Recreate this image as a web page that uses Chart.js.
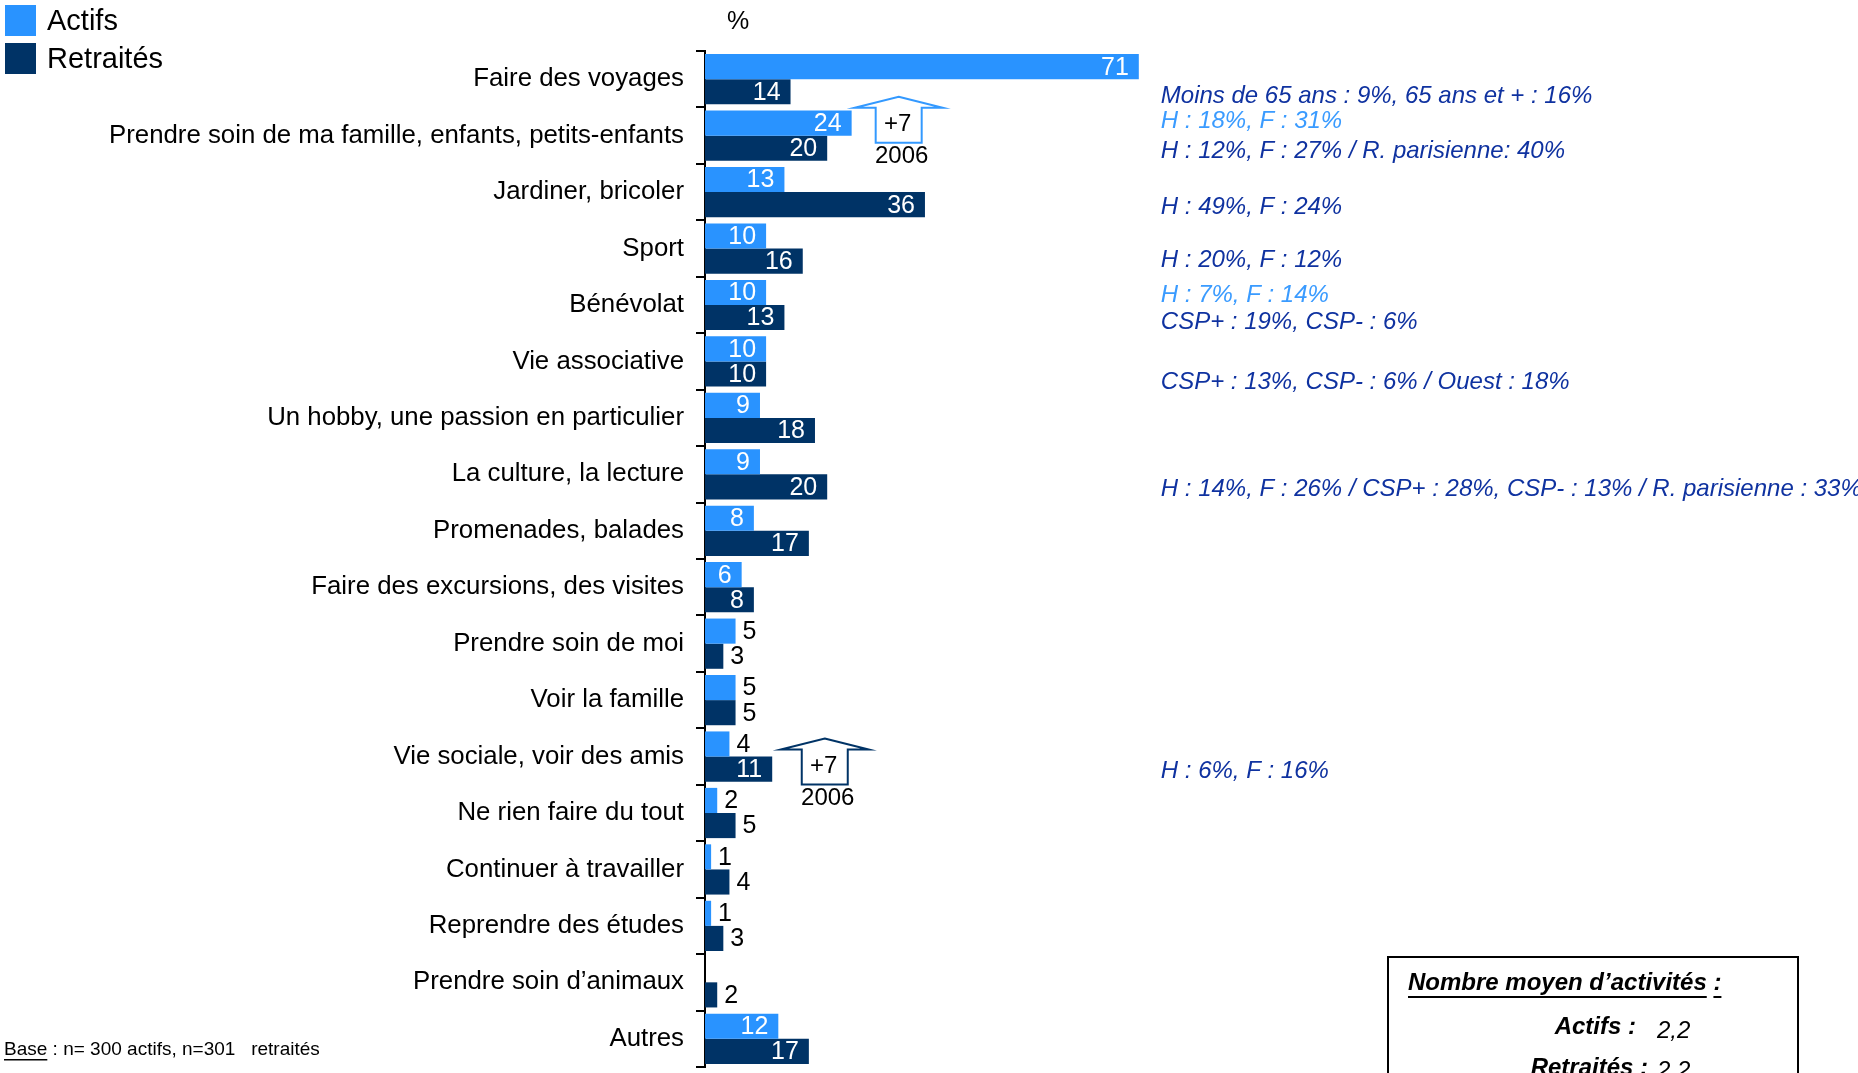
<!DOCTYPE html>
<html>
<head>
<meta charset="utf-8">
<script src="https://cdn.jsdelivr.net/npm/chart.js"></script>
<style>
  html, body { margin: 0; padding: 0; background: #fff; }
  #wrap { width: 1858px; height: 1073px; position: relative; }
</style>
</head>
<body>
<div id="wrap"><canvas id="chart" width="1858" height="1073"></canvas></div>
<script>
// --- Données ---
const categories = [
    "Faire des voyages",
    "Prendre soin de ma famille, enfants, petits-enfants",
    "Jardiner, bricoler",
    "Sport",
    "Bénévolat",
    "Vie associative",
    "Un hobby, une passion en particulier",
    "La culture, la lecture",
    "Promenades, balades",
    "Faire des excursions, des visites",
    "Prendre soin de moi",
    "Voir la famille",
    "Vie sociale, voir des amis",
    "Ne rien faire du tout",
    "Continuer à travailler",
    "Reprendre des études",
    "Prendre soin d’animaux",
    "Autres",
];
const actifs = [71, 24, 13, 10, 10, 10, 9, 9, 8, 6, 5, 5, 4, 2, 1, 1, null, 12];
const retraites = [14, 20, 36, 16, 13, 10, 18, 20, 17, 8, 3, 5, 11, 5, 4, 3, 2, 17];
const seriesNames = ["Actifs", "Retraités"];

// notes à droite : catégorie, série (0 = actifs, 1 = retraités), texte
const noteCats = [0, 1, 1, 2, 3, 4, 4, 5, 7, 12];
const noteSeries = [1, 0, 1, 1, 1, 0, 1, 1, 1, 1];
const noteTexts = [
    "Moins de 65 ans : 9%, 65 ans et + : 16%",
    "H : 18%, F : 31%",
    "H : 12%, F : 27% / R. parisienne: 40%",
    "H : 49%, F : 24%",
    "H : 20%, F : 12%",
    "H : 7%, F : 14%",
    "CSP+ : 19%, CSP- : 6%",
    "CSP+ : 13%, CSP- : 6% / Ouest : 18%",
    "H : 14%, F : 26% / CSP+ : 28%, CSP- : 13% / R. parisienne : 33%",
    "H : 6%, F : 16%",
];

// évolutions vs 2006
const evoCats = [1, 12];
const evoSeries = [0, 1];
const evoValues = ["+7", "+7"];
const evoYear = "2006";

const moyenActifs = "2,2";
const moyenRetraites = "2,2";

const COLOR_ACTIFS = "#2993FF";
const COLOR_RETRAITES = "#003366";
const NOTE_DARK = "#0F32A0";
const NOTE_LIGHT = "#3A9BFF";
const FONT = "'Liberation Sans', Arial, sans-serif";

// --- Plugin : étiquettes, légende, notes ---
const overlayPlugin = {
    id: "overlay",
    afterDatasetsDraw(chart) {
        const ctx = chart.ctx;
        ctx.save();
        ctx.font = `25px ${FONT}`;
        ctx.textBaseline = "middle";
        chart.data.datasets.forEach((ds, di) => {
            const meta = chart.getDatasetMeta(di);
            meta.data.forEach((bar, i) => {
                const v = ds.data[i];
                if (v === null || v === undefined) return;
                if (v >= 6) {
                    ctx.fillStyle = "#fff";
                    ctx.textAlign = "right";
                    ctx.fillText(String(v), bar.x - 10, bar.y + 1);
                } else {
                    ctx.fillStyle = "#000";
                    ctx.textAlign = "left";
                    ctx.fillText(String(v), bar.x + 7, bar.y + 1);
                }
            });
        });
        ctx.restore();
    },
    afterDraw(chart) {
        const ctx = chart.ctx;
        const xs = chart.scales.x;
        const area = chart.chartArea;
        ctx.save();

        // légende
        const colors = [COLOR_ACTIFS, COLOR_RETRAITES];
        ctx.font = `29px ${FONT}`;
        ctx.textBaseline = "middle";
        ctx.textAlign = "left";
        seriesNames.forEach((name, i) => {
            const top = 5 + i * 38;
            ctx.fillStyle = colors[i];
            ctx.fillRect(5, top, 31, 31);
            ctx.fillStyle = "#000";
            ctx.fillText(name, 47, top + 17);
        });

        // unité
        ctx.font = `25px ${FONT}`;
        ctx.fillText("%", area.left + 22, 22);

        // notes (petit décalage vertical propre à chaque zone de texte)
        ctx.font = `italic 24px ${FONT}`;
        const noteX = xs.getPixelForValue(74.6);
        const noteShift = [5, -2, 3, 3, -1, 3, 5, 8, 2, 2];
        noteTexts.forEach((t, k) => {
            const bar = chart.getDatasetMeta(noteSeries[k]).data[noteCats[k]];
            ctx.fillStyle = noteSeries[k] === 0 ? NOTE_LIGHT : NOTE_DARK;
            ctx.fillText(t, noteX, bar.y + noteShift[k]);
        });

        // flèches +7
        const arrowX = [31.7, 19.6];
        const arrowTop = [-39, -18];
        evoCats.forEach((cat, k) => {
            const cx = xs.getPixelForValue(arrowX[k]);
            const cy = chart.scales.y.getPixelForValue(cat) + arrowTop[k];
            ctx.strokeStyle = evoSeries[k] === 0 ? "#3399FF" : COLOR_RETRAITES;
            ctx.lineWidth = 2;
            ctx.beginPath();
            ctx.moveTo(cx, cy);
            ctx.lineTo(cx + 44, cy + 11);
            ctx.lineTo(cx + 23, cy + 11);
            ctx.lineTo(cx + 23, cy + 46);
            ctx.lineTo(cx - 23, cy + 46);
            ctx.lineTo(cx - 23, cy + 11);
            ctx.lineTo(cx - 44, cy + 11);
            ctx.closePath();
            ctx.fillStyle = "#fff";
            ctx.fill();
            ctx.stroke();
            ctx.fillStyle = "#000";
            ctx.textAlign = "center";
            ctx.font = `24px ${FONT}`;
            ctx.fillText(evoValues[k], cx - 1, cy + 28);
            ctx.fillText(evoYear, cx + 3, cy + 60);
        });

        // base
        ctx.textAlign = "left";
        ctx.fillStyle = "#000";
        ctx.font = `19px ${FONT}`;
        const baseY = 1050;
        ctx.fillText("Base", 4, baseY);
        const wBase = ctx.measureText("Base").width;
        ctx.fillRect(4, baseY + 9, wBase, 1.5);
        ctx.fillText(" : n= 300 actifs, n=301   retraités", 4 + wBase, baseY);

        // encadré nombre moyen
        ctx.strokeStyle = "#000";
        ctx.lineWidth = 2;
        ctx.strokeRect(1388, 957, 410, 140);
        ctx.font = `italic bold 24px ${FONT}`;
        const title = "Nombre moyen d’activités";
        const tx = 1408, ty = 983;
        ctx.fillText(title, tx, ty);
        const wt = ctx.measureText(title).width;
        ctx.fillRect(tx, ty + 13, wt, 2);
        const wsp = ctx.measureText(" ").width;
        ctx.fillText(":", tx + wt + wsp, ty);
        ctx.fillRect(tx + wt + wsp, ty + 13, ctx.measureText(":").width, 2);

        ctx.textAlign = "right";
        ctx.fillText("Actifs :", 1636, 1027);
        ctx.fillText("Retraités :", 1648, 1068);
        ctx.textAlign = "left";
        ctx.font = `italic 24px ${FONT}`;
        ctx.fillText(moyenActifs, 1657, 1031);
        ctx.fillText(moyenRetraites, 1657, 1071);

        ctx.restore();
    },
};

new Chart(document.getElementById("chart"), {
    type: "bar",
    data: {
        labels: categories,
        datasets: [
            {
                label: seriesNames[0],
                data: actifs,
                backgroundColor: COLOR_ACTIFS,
                categoryPercentage: 0.89,
                barPercentage: 1.0,
            },
            {
                label: seriesNames[1],
                data: retraites,
                backgroundColor: COLOR_RETRAITES,
                categoryPercentage: 0.89,
                barPercentage: 1.0,
            },
        ],
    },
    options: {
        indexAxis: "y",
        responsive: false,
        animation: false,
        layout: { padding: { left: 0, right: 542, top: 51, bottom: 6 } },
        plugins: {
            legend: { display: false },
            tooltip: { enabled: false },
        },
        scales: {
            x: {
                display: false,
                min: 0,
                max: 100,
            },
            y: {
                afterFit: (scale) => {
                    scale.width = 705;
                    scale.paddingTop = 0;
                    scale.paddingBottom = 0;
                },
                grid: {
                    offset: true,
                    drawOnChartArea: false,
                    drawTicks: true,
                    tickLength: 9,
                    color: "#000",
                    lineWidth: 2,
                },
                border: { display: true, color: "#000", width: 2 },
                ticks: {
                    autoSkip: false,
                    color: "#000",
                    padding: 12,
                    font: { family: FONT, size: 25.8 },
                },
            },
        },
    },
    plugins: [overlayPlugin],
});
</script>
</body>
</html>
